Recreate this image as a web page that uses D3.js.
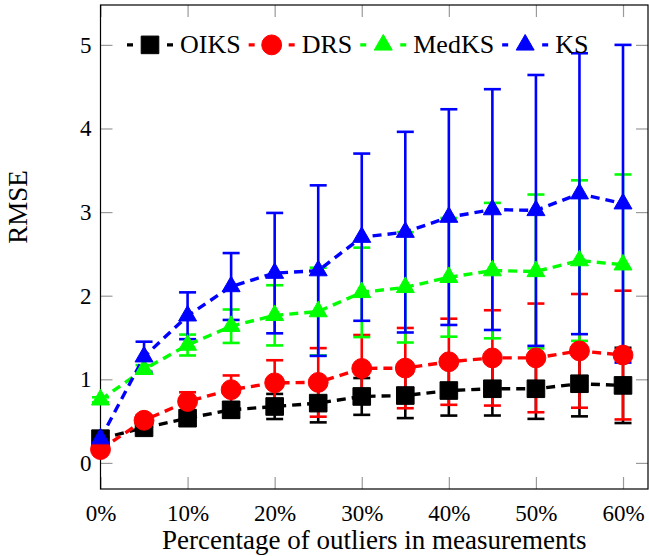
<!DOCTYPE html>
<html>
<head>
<meta charset="utf-8">
<script src="https://cdn.jsdelivr.net/npm/d3@7"></script>
<style>
  body { margin: 0; background: #fff; }
  svg text { font-family: "Liberation Serif", "Times New Roman", serif; fill: #000; }
</style>
</head>
<body>
<div id="chartContainer"></div>
<script>

// percentage of outliers (x values)
let percents = [0, 5, 10, 15, 20, 25, 30, 35, 40, 45, 50, 55, 60];

// RMSE means and error bar half-heights
let oiksMean = [0.29, 0.42, 0.535, 0.635, 0.675, 0.715, 0.795, 0.806, 0.866, 0.887, 0.887, 0.947, 0.927];
let oiksErr  = [0.03, 0.05, 0.07, 0.09, 0.15, 0.23, 0.22, 0.27, 0.30, 0.32, 0.36, 0.39, 0.45];

let drsMean = [0.16, 0.51, 0.735, 0.876, 0.958, 0.963, 1.13, 1.134, 1.21, 1.256, 1.256, 1.34, 1.29];
let drsErr  = [0.03, 0.06, 0.11, 0.17, 0.27, 0.41, 0.40, 0.48, 0.515, 0.57, 0.65, 0.68, 0.77];

let medksMean = [0.755, 1.12, 1.41, 1.635, 1.765, 1.81, 2.04, 2.10, 2.22, 2.30, 2.29, 2.42, 2.37];
let medksErr  = [0.03, 0.05, 0.125, 0.20, 0.36, 0.525, 0.535, 0.66, 0.71, 0.81, 0.92, 0.96, 1.08];

let ksMean = [0.29, 1.27, 1.76, 2.11, 2.27, 2.30, 2.70, 2.76, 2.94, 3.03, 3.02, 3.22, 3.10];
let ksErr  = [0.03, 0.18, 0.28, 0.40, 0.72, 1.02, 1.00, 1.20, 1.29, 1.44, 1.62, 1.68, 1.90];

let xTicks = [0, 10, 20, 30, 40, 50, 60];
let yTicks = [0, 1, 2, 3, 4, 5];

let seriesNames = ["OIKS", "DRS", "MedKS", "KS"];

let series = [
	{ name: seriesNames[0], color: "#000000", shape: "square",   mean: oiksMean,  err: oiksErr },
	{ name: seriesNames[1], color: "#ff0000", shape: "circle",   mean: drsMean,   err: drsErr },
	{ name: seriesNames[2], color: "#00ff00", shape: "triangle", mean: medksMean, err: medksErr },
	{ name: seriesNames[3], color: "#0000ff", shape: "triangle", mean: ksMean,    err: ksErr }
];

let width = 649, height = 556;
let plotLeft = 100.5, plotRight = 648, plotTop = 5, plotBottom = 489;
let serif = "'Liberation Serif', 'Times New Roman', serif";

let svg = d3.select("#chartContainer")
	.append("svg")
	.attr("width", width)
	.attr("height", height);

let xScale = d3.scaleLinear()
	.domain([0, 62.87])
	.range([plotLeft, plotRight]);

let yScale = d3.scaleLinear()
	.domain([-0.312, 5.477])
	.range([plotBottom, plotTop]);

// axes: ticks point inward, grey
function styleAxis(g) {
	g.attr("font-family", serif).attr("font-size", 23);
	g.select(".domain").remove();
	g.selectAll(".tick line").attr("stroke", "#9a9a9a").attr("stroke-width", 1.2);
	g.selectAll(".tick text").style("font-family", serif).style("font-size", "23px");
}

svg.append("g")
	.attr("transform", "translate(0," + plotBottom + ")")
	.call(d3.axisBottom(xScale).tickValues(xTicks).tickSize(-12).tickPadding(16).tickFormat(d => d + "%"))
	.call(styleAxis);

svg.append("g")
	.attr("transform", "translate(0," + plotTop + ")")
	.call(d3.axisTop(xScale).tickValues(xTicks).tickSize(-12).tickFormat(""))
	.call(styleAxis);

svg.append("g")
	.attr("transform", "translate(" + plotLeft + ",0)")
	.call(d3.axisLeft(yScale).tickValues(yTicks).tickSize(-12).tickPadding(9).tickFormat(d3.format("d")))
	.call(styleAxis);

svg.append("g")
	.attr("transform", "translate(" + plotRight + ",0)")
	.call(d3.axisRight(yScale).tickValues(yTicks).tickSize(-12).tickFormat(""))
	.call(styleAxis);

// frame
svg.append("rect")
	.attr("x", plotLeft)
	.attr("y", plotTop)
	.attr("width", plotRight - plotLeft)
	.attr("height", plotBottom - plotTop)
	.attr("fill", "none")
	.attr("stroke", "#000")
	.attr("stroke-width", 1.2);

// axis labels
svg.append("text")
	.attr("x", (plotLeft + plotRight) / 2)
	.attr("y", 549)
	.attr("text-anchor", "middle")
	.style("font-size", "27px")
	.text("Percentage of outliers in measurements");

svg.append("text")
	.attr("transform", "translate(27,207) rotate(-90)")
	.attr("text-anchor", "middle")
	.style("font-size", "27px")
	.text("RMSE");

function markerPath(shape) {
	if (shape === "square") return d3.symbol().type(d3.symbolSquare).size(310)();
	if (shape === "circle") return d3.symbol().type(d3.symbolCircle).size(310)();
	return d3.symbol().type(d3.symbolTriangle).size(140)();
}

let capHalf = 8.5;

// error bars
series.forEach(s => {
	let g = svg.append("g").attr("stroke", s.color).attr("stroke-width", 2.6).attr("fill", "none");
	percents.forEach((p, i) => {
		let x = xScale(p);
		let yTop = yScale(s.mean[i] + s.err[i]);
		let yBot = yScale(s.mean[i] - s.err[i]);
		g.append("line").attr("x1", x).attr("x2", x).attr("y1", yTop).attr("y2", yBot);
		g.append("line").attr("x1", x - capHalf).attr("x2", x + capHalf).attr("y1", yTop).attr("y2", yTop);
		g.append("line").attr("x1", x - capHalf).attr("x2", x + capHalf).attr("y1", yBot).attr("y2", yBot);
	});
});

// dashed lines
let line = d3.line()
	.x(d => xScale(d[0]))
	.y(d => yScale(d[1]));

series.forEach(s => {
	svg.append("path")
		.datum(percents.map((p, i) => [p, s.mean[i]]))
		.attr("d", line)
		.attr("fill", "none")
		.attr("stroke", s.color)
		.attr("stroke-width", 3.4)
		.attr("stroke-dasharray", "9,6");
});

// markers
series.forEach(s => {
	svg.append("g").selectAll("path")
		.data(percents.map((p, i) => [p, s.mean[i]]))
		.join("path")
		.attr("d", markerPath(s.shape))
		.attr("transform", d => "translate(" + xScale(d[0]) + "," + yScale(d[1]) + ")")
		.attr("fill", s.color)
		.attr("stroke", s.color)
		.attr("stroke-width", 1);
});

// legend, no box
let legendY = yScale(5);
let cursor = 127;
series.forEach(s => {
	let g = svg.append("g").attr("transform", "translate(" + cursor + "," + legendY + ")");
	g.append("line")
		.attr("x1", 0).attr("x2", 46).attr("y1", 0).attr("y2", 0)
		.attr("stroke", s.color)
		.attr("stroke-width", 3.4)
		.attr("stroke-dasharray", "6,34");
	g.append("path")
		.attr("d", markerPath(s.shape))
		.attr("transform", "translate(23,0)")
		.attr("fill", s.color)
		.attr("stroke", s.color);
	let t = g.append("text")
		.attr("x", 53)
		.attr("dy", "0.33em")
		.style("font-size", "26px")
		.text(s.name);
	cursor += 53 + t.node().getComputedTextLength() + 8;
});

</script>
</body>
</html>
